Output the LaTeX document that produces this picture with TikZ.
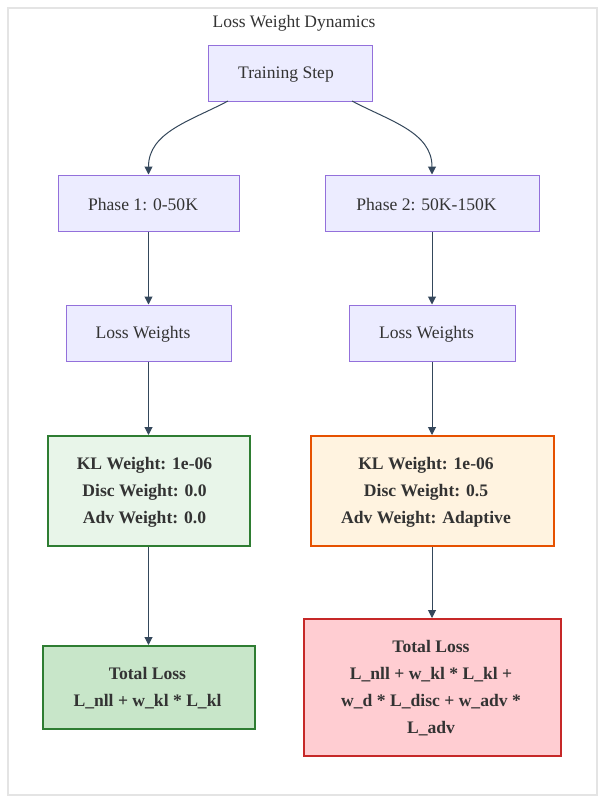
\documentclass[tikz,border=0pt]{standalone}
\usepackage{fontspec}
\setmainfont{Liberation Serif}
\usepackage{xcolor}
\usepackage{tikz}
\usetikzlibrary{arrows.meta}

\definecolor{boxfill}{HTML}{ECECFF}
\definecolor{boxline}{HTML}{9370DB}
\definecolor{edge}{HTML}{34475B}
\definecolor{ink}{HTML}{333333}
\definecolor{greenfill}{HTML}{E8F5E9}
\definecolor{greenfilldark}{HTML}{C8E6C9}
\definecolor{greenline}{HTML}{2E7D32}
\definecolor{orangefill}{HTML}{FFF3E0}
\definecolor{orangeline}{HTML}{E65100}
\definecolor{redfill}{HTML}{FFCDD2}
\definecolor{redline}{HTML}{C62828}
\definecolor{frameline}{HTML}{E4E4E4}

\begin{document}
\begin{tikzpicture}[x=1pt,y=-1pt,
    stepbox/.style={draw=boxline,fill=boxfill,line width=1pt,inner sep=0pt},
    weightbox/.style={line width=2pt,inner sep=0pt},
    steptext/.style={xshift=-5.5pt,yshift=-1.5pt,text=ink,font=\fontsize{17.6}{27}\selectfont},
    weighttext/.style={xshift=-5pt,yshift=-1pt,text=ink,align=center,font=\fontsize{17.6}{27}\selectfont\bfseries},
    totaltext/.style={xshift=-1pt,yshift=-1pt,text=ink,align=center,font=\fontsize{17.6}{27}\selectfont\bfseries},
    arr/.style={draw=edge,line width=1pt,-{Triangle[length=8pt,width=8pt]}}]
    \useasboundingbox (0,0) rectangle (611,811);
    \draw[frameline,line width=1.5pt,fill=white] (8,8) rectangle (597,795);
    \node[text=ink,font=\fontsize{17.5}{21}\selectfont] (title) at (294,23) {Loss Weight Dynamics};

    \node[stepbox,minimum width=164pt,minimum height=56pt,
      label={[steptext,xshift=1.5pt]center:Training Step}] (train) at (290,73) {};
    \node[stepbox,minimum width=181pt,minimum height=56pt,
      label={[steptext]center:Phase 1: 0-50K}] (phaseone) at (148.5,203) {};
    \node[stepbox,minimum width=214pt,minimum height=56pt,
      label={[steptext]center:Phase 2: 50K-150K}] (phasetwo) at (432,203) {};
    \node[stepbox,minimum width=165pt,minimum height=56pt,
      label={[steptext]center:Loss Weights}] (lossone) at (148.5,333) {};
    \node[stepbox,minimum width=166pt,minimum height=56pt,
      label={[steptext]center:Loss Weights}] (losstwo) at (432,333) {};

    \node[weightbox,draw=greenline,fill=greenfill,minimum width=202pt,minimum height=110pt,
      label={[weighttext,xshift=1pt]center:KL Weight: 1e-06\\Disc Weight: 0.0\\Adv Weight: 0.0}] (weightone) at (148.5,491) {};
    \node[weightbox,draw=orangeline,fill=orangefill,minimum width=243pt,minimum height=110pt,
      label={[weighttext,xshift=-1pt]center:KL Weight: 1e-06\\Disc Weight: 0.5\\Adv Weight: Adaptive}] (weighttwo) at (432,491) {};
    \node[weightbox,draw=greenline,fill=greenfilldark,minimum width=212pt,minimum height=83pt,
      label={[totaltext]center:Total Loss\\L\_nll + w\_kl * L\_kl}] (totalone) at (148.5,687.5) {};
    \node[weightbox,draw=redline,fill=redfill,minimum width=257pt,minimum height=137pt,
      label={[totaltext]center:Total Loss\\L\_nll + w\_kl * L\_kl +\\w\_d * L\_disc + w\_adv *\\L\_adv}] (totaltwo) at (432,687.5) {};

    \coordinate (trainleft) at (228,101);
    \coordinate (trainright) at (352,101);
    \draw[arr] (trainleft) to[out=-152,in=90] (phaseone.north);
    \draw[arr] (trainright) to[out=-28,in=90] (phasetwo.north);
    \draw[arr] (phaseone) -- (lossone);
    \draw[arr] (phasetwo) -- (losstwo);
    \draw[arr] (lossone) -- (weightone);
    \draw[arr] (losstwo) -- (weighttwo);
    \draw[arr] (weightone) -- (totalone);
    \draw[arr] (weighttwo) -- (totaltwo);
  \end{tikzpicture}
\end{document}
